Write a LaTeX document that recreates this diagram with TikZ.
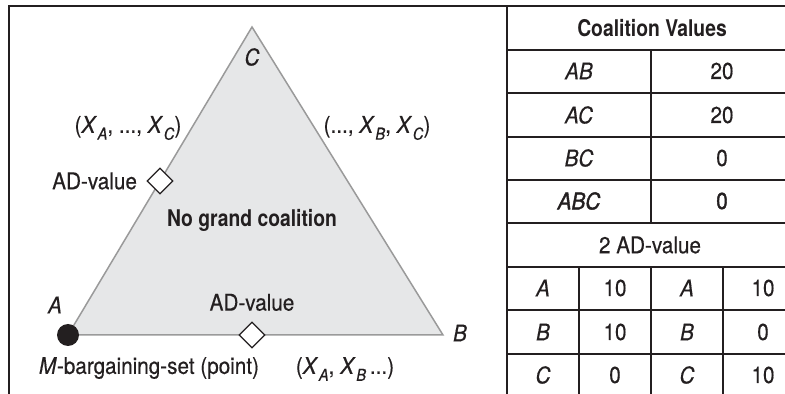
\documentclass[tikz,border=0pt]{standalone}
\usepackage{fontspec}
\setmainfont{TeX Gyre Heros}[FakeStretch=0.9, FakeBold=0.4, BoldFeatures={FakeStretch=0.84, FakeBold=0}]
\newfontfamily\medfont{TeX Gyre Heros}[FakeStretch=0.9, FakeBold=1.6]
\definecolor{gtink}{HTML}{231F20}
\definecolor{gtfill}{HTML}{E6E7E8}
\definecolor{gtedge}{HTML}{9A9A9A}
\usetikzlibrary{shapes.geometric, positioning, calc}
\newcommand{\xsub}[1]{\textit{X}\kern0.03em\raisebox{-0.3em}{\fontsize{8.2}{9}\selectfont\textit{#1}}}

\begin{document}
\begin{tikzpicture}[
  x=0.5pt, y=-0.5pt,
  lbl/.style={font=\fontsize{11.5}{13}\selectfont, text=gtink, inner sep=0pt},
  hdr/.style={lbl, font=\fontsize{11.5}{13}\selectfont\bfseries},
  med/.style={lbl, font=\fontsize{11.5}{13}\selectfont\medfont},
  frame/.style={draw=gtink, line width=1pt},
  grid/.style={draw=gtink, line width=0.9pt},
  tri/.style={fill=gtfill, draw=gtedge, line width=0.75pt, line join=miter},
  advalue/.style={diamond, draw=gtink, fill=white, line width=0.65pt,
    minimum size=13pt, inner sep=0pt},
  mpoint/.style={circle, fill=gtink, minimum size=11pt, inner sep=0pt}
]
\useasboundingbox (0,0) rectangle (785,394);
\draw[frame] (800,6) -- (9,6) -- (9,400);

% triangle of imputations
\coordinate (A) at (68,335);
\coordinate (B) at (443,335);
\coordinate (C) at (252,27);
\filldraw[tri] (A) -- (B) -- (C) -- cycle;
\node[mpoint] (mset) at (A) {};
\node[advalue] (adac) at ($(A)!0.5!(C)$) {};
\node[advalue] (adab) at (252,335) {};

\node[lbl] (lc) at (252,57) {\textit{C}};
\node[lbl] (la) at (55,305) {\textit{A}};
\node[lbl] (lb) at (460,333) {\textit{B}};
\node[lbl] (sac) at (128,128) {(\xsub{A}, ..., \xsub{C})};
\node[lbl] (sbc) at (377,128) {(..., \xsub{B}, \xsub{C})};
\node[lbl, left=4.5pt of adac] (adl) {AD-value};
\node[lbl, above=5pt of adab] (adb) {AD-value};
\node[hdr] (nogc) at (252,220) {No grand coalition};
\node[lbl] (msl) at (149,368) {\textit{M}-bargaining-set (point)};
\node[lbl] (sab) at (345,369) {(\xsub{A}, \xsub{B}\,...)};

% table
\draw[grid] (507,6) -- (507,400);
\foreach \y in {50,93,137,180,223,267,310,354}
  \draw[grid] (507,\y) -- (800,\y);
\draw[grid] (651,50) -- (651,223);
\foreach \x in {579,651,723}
  \draw[grid] (\x,267) -- (\x,400);

\node[hdr] (cvhead) at (652,28) {Coalition Values};
\foreach \c/\v/\y in {AB/20/71, AC/20/115, BC/0/158}{
  \node[lbl] (k\c) at (579,\y) {\textit{\c}};
  \node[lbl] (v\c) at (722,\y) {\v};
}
\node[med] (kABC) at (579,201) {\itshape ABC};
\node[med] (vABC) at (722,201) {0};
\node[lbl] (adhead) at (650,245) {2 AD-value};
\foreach \p/\u/\w/\y in {A/10/10/288, B/10/0/332, C/0/10/375}{
  \node[lbl] (p\p) at (543,\y) {\textit{\p}};
  \node[lbl] (u\p) at (615,\y) {\u};
  \node[lbl] (q\p) at (687,\y) {\textit{\p}};
  \node[lbl] (w\p) at (763,\y) {\w};
}
\end{tikzpicture}
\end{document}
